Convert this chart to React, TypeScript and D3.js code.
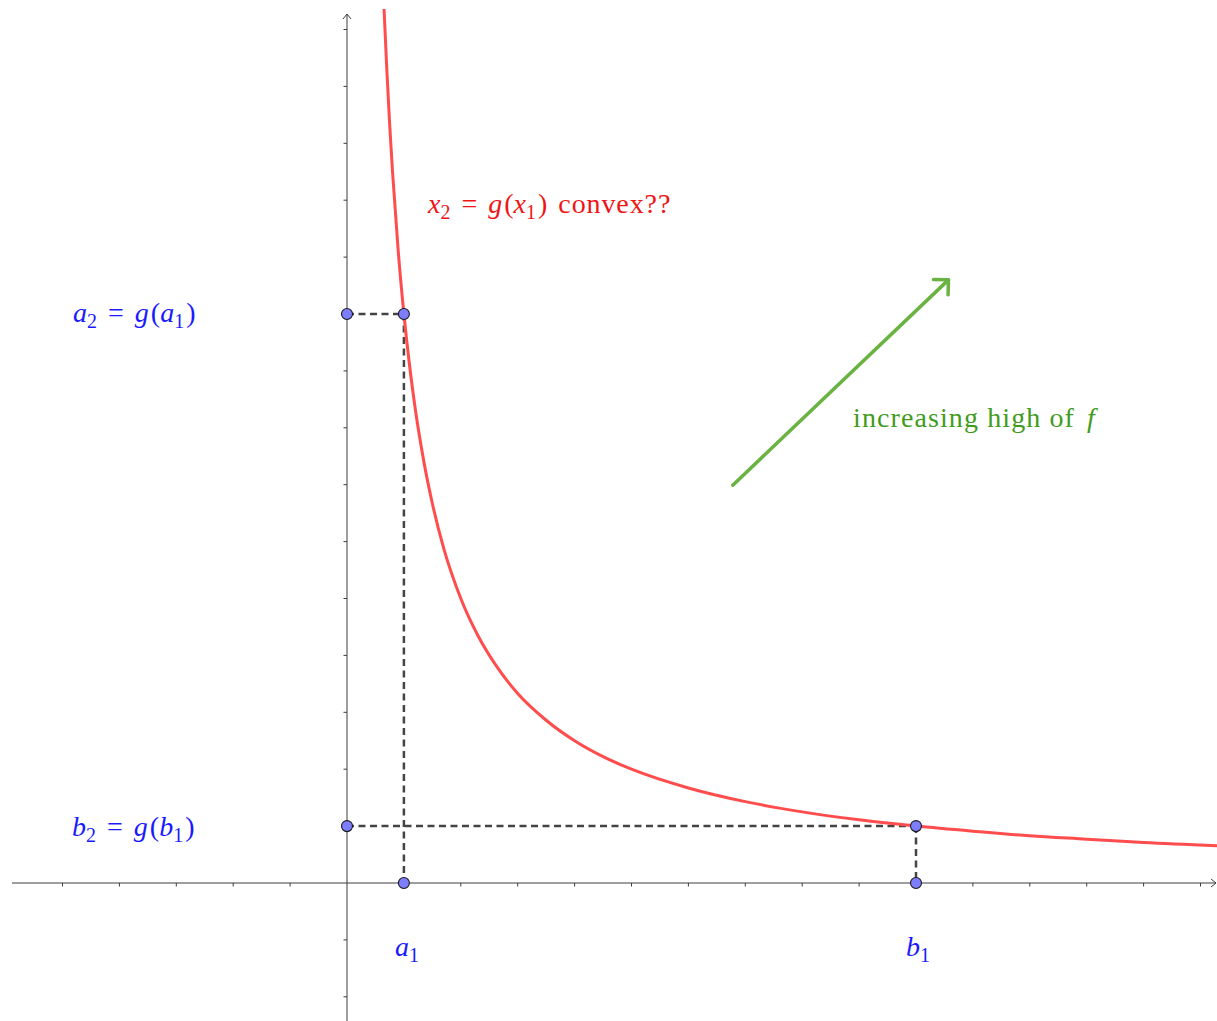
import React, { useRef, useEffect } from "react";
import * as d3 from "d3";

const WIDTH = 1217;
const HEIGHT = 1021;

// red curve x2 = g(x1)
const curveX1 = [0.651, 0.7, 0.75, 0.8, 0.9, 1, 1.1, 1.2, 1.35, 1.5, 1.7, 2, 2.3, 2.6, 3, 3.5, 4, 4.5, 5, 6, 7, 8, 9, 10, 11, 12, 13, 14, 15.3];
const curveX2 = [15.36, 14.29, 13.33, 12.5, 11.11, 10, 9.09, 8.33, 7.41, 6.67, 5.88, 5, 4.35, 3.85, 3.33, 2.86, 2.5, 2.22, 2, 1.67, 1.43, 1.25, 1.11, 1, 0.91, 0.83, 0.77, 0.71, 0.654];

const xTicks = [-5, -4, -3, -2, -1, 1, 2, 3, 4, 5, 6, 7, 8, 9, 10, 11, 12, 13, 14, 15];
const yTicks = [-2, -1, 1, 2, 3, 4, 5, 6, 7, 8, 9, 10, 11, 12, 13, 14, 15];

// (a1, a2) and (b1, b2)
const pointA = [1, 10];
const pointB = [10, 1];

// green "increasing" arrow
const arrowStart = [6.78, 6.99];
const arrowEnd = [10.57, 10.6];

const FONT = "'Liberation Serif', 'Times New Roman', serif";

type Seg = { t: string; it?: boolean; sub?: boolean; dx?: number; ls?: number };

const App = () => {
    const svgRef = useRef<SVGSVGElement>(null);

    useEffect(() => {
        document.body.style.margin = "0";
        const svg = d3.select(svgRef.current);
        svg.selectAll("*").remove();

        const x = d3.scaleLinear().domain([0, 10]).range([347, 916]);
        const y = d3.scaleLinear().domain([0, 10]).range([883, 314]);

        // axes
        const axes = svg.append("g").attr("stroke", "#3c3c3c").attr("stroke-width", 1).attr("fill", "none");
        axes.append("line").attr("x1", 12).attr("x2", WIDTH - 1).attr("y1", y(0)).attr("y2", y(0));
        axes.append("line").attr("x1", x(0)).attr("x2", x(0)).attr("y1", 14).attr("y2", HEIGHT);
        axes.append("path").attr("d", `M${WIDTH - 6},${y(0) - 4}L${WIDTH - 1},${y(0)}L${WIDTH - 6},${y(0) + 4}`);
        axes.append("path").attr("d", `M${x(0) - 4},${19}L${x(0)},${14}L${x(0) + 4},${19}`);

        axes.selectAll(".xt")
            .data(xTicks)
            .join("line")
            .attr("x1", (d) => x(d))
            .attr("x2", (d) => x(d))
            .attr("y1", y(0))
            .attr("y2", y(0) + 3.5);
        axes.selectAll(".yt")
            .data(yTicks)
            .join("line")
            .attr("x1", x(0) - 3.5)
            .attr("x2", x(0))
            .attr("y1", (d) => y(d))
            .attr("y2", (d) => y(d));

        // dashed guides
        const guides = [
            [[0, pointA[1]], pointA],
            [pointA, [pointA[0], 0]],
            [[0, pointB[1]], pointB],
            [pointB, [pointB[0], 0]],
        ];
        svg.append("g")
            .selectAll("line")
            .data(guides)
            .join("line")
            .attr("x1", (d) => x(d[0][0]))
            .attr("y1", (d) => y(d[0][1]))
            .attr("x2", (d) => x(d[1][0]))
            .attr("y2", (d) => y(d[1][1]))
            .attr("stroke", "#444")
            .attr("stroke-width", 2.5)
            .attr("stroke-dasharray", "7,4.5");

        // curve
        const line = d3
            .line<number>()
            .x((d, i) => x(curveX1[i]))
            .y((d) => y(d))
            .curve(d3.curveMonotoneX);
        svg.append("path")
            .attr("d", line(curveX2))
            .attr("fill", "none")
            .attr("stroke", "#ff4d4d")
            .attr("stroke-width", 3);

        // green arrow
        const ax1 = x(arrowStart[0]), ay1 = y(arrowStart[1]);
        const ax2 = x(arrowEnd[0]), ay2 = y(arrowEnd[1]);
        const ang = Math.atan2(ay2 - ay1, ax2 - ax1);
        const head = 15;
        const green = svg.append("g")
            .attr("stroke", "#6ab343")
            .attr("stroke-width", 3.5)
            .attr("stroke-linecap", "round")
            .attr("stroke-linejoin", "round")
            .attr("fill", "none");
        green.append("line").attr("x1", ax1).attr("y1", ay1).attr("x2", ax2).attr("y2", ay2);
        green.append("path").attr(
            "d",
            `M${ax2 - head * Math.cos(ang - Math.PI / 4)},${ay2 - head * Math.sin(ang - Math.PI / 4)}` +
                `L${ax2},${ay2}` +
                `L${ax2 - head * Math.cos(ang + Math.PI / 4)},${ay2 - head * Math.sin(ang + Math.PI / 4)}`
        );

        // points
        const pts = [
            [0, pointA[1]],
            pointA,
            [pointA[0], 0],
            [0, pointB[1]],
            pointB,
            [pointB[0], 0],
        ];
        svg.append("g")
            .selectAll("circle")
            .data(pts)
            .join("circle")
            .attr("cx", (d) => x(d[0]))
            .attr("cy", (d) => y(d[1]))
            .attr("r", 5.5)
            .attr("fill", "#7d7dff")
            .attr("stroke", "#1a1a1a")
            .attr("stroke-width", 1.1);

        // labels (LaTeX-ish: italic variables, upright digits and words)
        const label = (px: number, py: number, color: string, segs: Seg[]) => {
            const t = svg.append("text")
                .attr("x", px)
                .attr("y", py)
                .attr("fill", color)
                .attr("font-family", FONT)
                .attr("font-size", 28);
            let shifted = false;
            segs.forEach((s) => {
                const ts = t.append("tspan").text(s.t);
                if (s.it) ts.attr("font-style", "italic");
                let dy = 0;
                if (s.sub && !shifted) { dy = 6; shifted = true; }
                if (!s.sub && shifted) { dy = -6; shifted = false; }
                if (dy) ts.attr("dy", dy);
                if (s.sub) ts.attr("font-size", 20);
                if (s.dx) ts.attr("dx", s.dx);
                if (s.ls) ts.attr("letter-spacing", s.ls);
            });
        };

        const blue = "#1a1aff";
        label(73, 322, blue, [
            { t: "a", it: true }, { t: "2", sub: true }, { t: "=", dx: 11 }, { t: "g", it: true, dx: 11 },
            { t: "(", dx: 2 }, { t: "a", it: true }, { t: "1", sub: true }, { t: ")", dx: 2 },
        ]);
        label(72, 836, blue, [
            { t: "b", it: true }, { t: "2", sub: true }, { t: "=", dx: 11 }, { t: "g", it: true, dx: 11 },
            { t: "(", dx: 2 }, { t: "b", it: true }, { t: "1", sub: true }, { t: ")", dx: 2 },
        ]);
        label(395, 956, blue, [{ t: "a", it: true }, { t: "1", sub: true }]);
        label(906, 956, blue, [{ t: "b", it: true }, { t: "1", sub: true }]);
        label(428, 213, "#f01515", [
            { t: "x", it: true }, { t: "2", sub: true }, { t: "=", dx: 11 }, { t: "g", it: true, dx: 11 },
            { t: "(", dx: 2 }, { t: "x", it: true }, { t: "1", sub: true }, { t: ")", dx: 2 },
            { t: "convex??", dx: 11, ls: 0.9 },
        ]);
        label(853, 427, "#3f9c1c", [{ t: "increasing high of", ls: 1.1 }, { t: "f", it: true, dx: 12 }]);
    }, []);

    return (
        <div>
            <svg ref={svgRef} width={WIDTH} height={HEIGHT} style={{ display: "block", background: "#fff" }} />
        </div>
    );
};

export default App;
